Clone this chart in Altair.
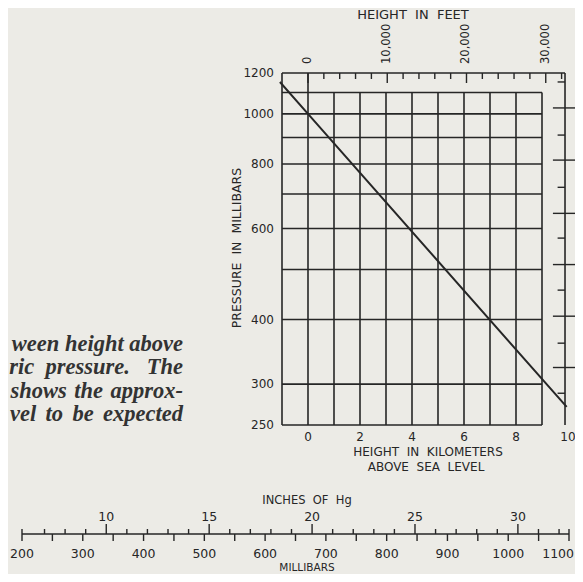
import altair as alt
import pandas as pd

BG = "#ecebe6"
INK = "#262626"
FONT = "DejaVu Sans"
SERIF = "Liberation Serif"
SP = "\u00a0"
HAIR = "\u200a"
SIXTH = "\u2006"

# ---------------- data ----------------
km_grid = [1, 2, 3, 4, 5, 6, 7, 8, 9]
km_full = [-1, 0]
km_labels = [0, 2, 4, 6, 8, 10]
mb_grid = [1100, 1000, 900, 800, 700, 600, 500, 400, 300, 250]
mb_labels = [1200, 1000, 800, 600, 400, 300, 250]
feet_minor = [2000, 4000, 6000, 8000, 12000, 14000, 16000, 18000,
              22000, 24000, 26000, 28000, 32000]
feet_major = [0, 10000, 20000, 30000]
feet_text = ["0", "10,000", "20,000", "30,000"]
right_long_mb = [1027, 814, 642, 511, 406, 323]
right_short_mb = [1153, 910, 721, 575, 456, 360, 288]
curve_km = [-1.08, 0.0, 9.95]
curve_mb = [1153, 1000, 271]
hg_minor = [7, 8, 9, 11, 12, 13, 14, 16, 17, 18, 19, 21, 22, 23, 24,
            26, 27, 28, 29, 31, 32]
hg_major = [10, 15, 20, 25, 30]
bar_mb_ticks = [250, 300, 350, 400, 450, 500, 550, 600, 650, 700, 750,
                800, 850, 900, 950, 1000, 1050]
bar_mb_ends = [200, 1100]
bar_mb_labels = [200, 300, 400, 500, 600, 700, 800, 900, 1000]
bar_mb_last = [1100]
caption = ["ween height above",
           "ric" + SP * 2 + "pressure." + SP * 3 + "The",
           "shows " + HAIR + "the " + HAIR + "approx-",
           "vel " + SIXTH + "to " + SIXTH + "be " + SIXTH + "expected"]

# ---------------- scales ----------------
KM_PER_FT = 0.0003048
MB_PER_INHG = 33.8639
km_sc = alt.Scale(domain=[-1, 10], range=[274, 560], zero=False, nice=False)
ft_sc = alt.Scale(domain=[-1 / KM_PER_FT, 10 / KM_PER_FT], range=[274, 560],
                  zero=False, nice=False)
mb_sc = alt.Scale(type="log", domain=[250, 1200], range=[417, 65], nice=False)
bar_sc = alt.Scale(domain=[200, 1100], range=[14, 561], zero=False, nice=False)
hg_sc = alt.Scale(domain=[200 / MB_PER_INHG, 1100 / MB_PER_INHG],
                  range=[14, 561], zero=False, nice=False)
cap_sc = alt.Scale(domain=[0, 3], range=[343, 413], zero=False, nice=False)
RIGHT_KM = 9.885

def X(f, sc=km_sc):
    return alt.X(f, type="quantitative", scale=sc, axis=None)

def Y(f, sc=mb_sc):
    return alt.Y(f, type="quantitative", scale=sc, axis=None)

layers = []

# horizontal grid lines
hg = pd.DataFrame({"mb": mb_grid, "a": -1, "b": 9})
layers.append(alt.Chart(hg).mark_rule(color=INK, strokeWidth=1.6).encode(
    x=X("a"), x2="b", y=Y("mb")))

# vertical grid lines
vg = pd.DataFrame({"km": km_grid, "lo": 250, "hi": 1100})
layers.append(alt.Chart(vg).mark_rule(color=INK, strokeWidth=1.6).encode(
    x=X("km"), y=Y("lo"), y2="hi"))
vf = pd.DataFrame({"km": km_full + [RIGHT_KM], "lo": 250, "hi": 1200})
layers.append(alt.Chart(vf).mark_rule(color=INK, strokeWidth=1.6).encode(
    x=X("km"), y=Y("lo"), y2="hi"))
# top frame line
tf = pd.DataFrame({"mb": [1200], "a": [-1], "b": [RIGHT_KM]})
layers.append(alt.Chart(tf).mark_rule(color=INK, strokeWidth=1.6).encode(
    x=X("a"), x2="b", y=Y("mb")))

# top feet ticks
fm = pd.DataFrame({"ft": feet_minor})
layers.append(alt.Chart(fm).mark_rule(color=INK, strokeWidth=1.4).encode(
    x=X("ft", ft_sc), y=alt.value(65), y2=alt.value(71)))
fM = pd.DataFrame({"ft": feet_major, "t": feet_text})
layers.append(alt.Chart(fM).mark_rule(color=INK, strokeWidth=1.4).encode(
    x=X("ft", ft_sc), y=alt.value(65), y2=alt.value(75)))
layers.append(alt.Chart(fM).mark_text(
    angle=270, align="left", baseline="middle", font=FONT, fontSize=11.5,
    color=INK).encode(x=X("ft", ft_sc), y=alt.value(56), text="t:N"))

# right-edge ticks
rl = pd.DataFrame({"mb": right_long_mb, "a": 9.42, "b": 10.27})
layers.append(alt.Chart(rl).mark_rule(color=INK, strokeWidth=1.4).encode(
    x=X("a"), x2="b", y=Y("mb")))
rs = pd.DataFrame({"mb": right_short_mb, "a": 9.6, "b": RIGHT_KM})
layers.append(alt.Chart(rs).mark_rule(color=INK, strokeWidth=1.4).encode(
    x=X("a"), x2="b", y=Y("mb")))

# the pressure-height line
cv = pd.DataFrame({"km": curve_km, "mb": curve_mb})
layers.append(alt.Chart(cv).mark_line(color=INK, strokeWidth=2).encode(
    x=X("km"), y=Y("mb")))

# y tick labels
yl = pd.DataFrame({"mb": mb_labels})
layers.append(alt.Chart(yl).mark_text(
    align="right", baseline="middle", font=FONT, fontSize=12, color=INK
).encode(x=alt.value(266), y=Y("mb"), text=alt.Text("mb:Q", format="d")))

# x tick labels
xl = pd.DataFrame({"km": km_labels})
layers.append(alt.Chart(xl).mark_text(
    align="center", baseline="middle", font=FONT, fontSize=12, color=INK
).encode(x=X("km"), y=alt.value(429), text=alt.Text("km:Q", format="d")))

def label(txt, x, y, size=12, angle=0, font=FONT, align="center",
          baseline="middle", color=INK):
    d = pd.DataFrame({"t": [txt]})
    return alt.Chart(d).mark_text(
        align=align, baseline=baseline, font=font, fontSize=size, angle=angle,
        color=color
    ).encode(x=alt.value(x), y=alt.value(y), text="t:N")

W2 = SP * 2
layers.append(label("HEIGHT" + W2 + "IN" + W2 + "FEET", 405, 7, size=13))
layers.append(label("PRESSURE" + W2 + "IN" + W2 + "MILLIBARS", 229, 240,
                    size=12.5, angle=270))
layers.append(label("HEIGHT" + W2 + "IN" + W2 + "KILOMETERS", 420, 444, size=12))
layers.append(label("ABOVE" + W2 + "SEA" + W2 + "LEVEL", 418, 459, size=12))

# ---------------- bottom conversion scale ----------------
LINE_Y = 526
bl = pd.DataFrame({"a": [200], "b": [1100]})
layers.append(alt.Chart(bl).mark_rule(color=INK, strokeWidth=1.6).encode(
    x=X("a", bar_sc), x2="b", y=alt.value(LINE_Y)))
be = pd.DataFrame({"mb": bar_mb_ends})
layers.append(alt.Chart(be).mark_rule(color=INK, strokeWidth=1.4).encode(
    x=X("mb", bar_sc), y=alt.value(LINE_Y - 5), y2=alt.value(LINE_Y + 7)))
bt = pd.DataFrame({"mb": bar_mb_ticks})
layers.append(alt.Chart(bt).mark_rule(color=INK, strokeWidth=1.4).encode(
    x=X("mb", bar_sc), y=alt.value(LINE_Y), y2=alt.value(LINE_Y + 7)))
hm = pd.DataFrame({"hg": hg_minor})
layers.append(alt.Chart(hm).mark_rule(color=INK, strokeWidth=1.4).encode(
    x=X("hg", hg_sc), y=alt.value(LINE_Y - 5), y2=alt.value(LINE_Y)))
hM = pd.DataFrame({"hg": hg_major})
layers.append(alt.Chart(hM).mark_rule(color=INK, strokeWidth=1.4).encode(
    x=X("hg", hg_sc), y=alt.value(LINE_Y - 10), y2=alt.value(LINE_Y)))
layers.append(alt.Chart(hM).mark_text(
    align="center", baseline="middle", font=FONT, fontSize=12.5, color=INK
).encode(x=X("hg", hg_sc), y=alt.value(LINE_Y - 17),
         text=alt.Text("hg:Q", format="d")))
blab = pd.DataFrame({"mb": bar_mb_labels})
layers.append(alt.Chart(blab).mark_text(
    align="center", baseline="middle", font=FONT, fontSize=12.5, color=INK
).encode(x=X("mb", bar_sc), y=alt.value(LINE_Y + 20),
         text=alt.Text("mb:Q", format="d")))
blast = pd.DataFrame({"mb": bar_mb_last})
layers.append(alt.Chart(blast).mark_text(
    align="right", baseline="middle", font=FONT, fontSize=12.5, color=INK,
    dx=5
).encode(x=X("mb", bar_sc), y=alt.value(LINE_Y + 20),
         text=alt.Text("mb:Q", format="d")))
layers.append(label("INCHES" + W2 + "OF" + W2 + "Hg", 299, 493, size=11.5))
layers.append(label("MILLIBARS", 299, 560, size=10.5))

# ---------------- caption fragment at left ----------------
cap = pd.DataFrame({"t": caption, "i": list(range(len(caption)))})
layers.append(alt.Chart(cap).mark_text(
    align="right", baseline="alphabetic", font=SERIF, fontSize=22.5,
    fontStyle="italic", fontWeight="bold", color="#333333"
).encode(x=alt.value(175),
         y=alt.Y("i:Q", scale=cap_sc, axis=None),
         text="t:N"))

chart = alt.layer(*layers).resolve_scale(
    x="independent", y="independent"
).properties(
    width=567, height=566, padding=0,
    autosize=alt.AutoSizeParams(type="none"), background=BG
).configure_view(stroke=None)

chart.save("out.html", embed_options={"renderer": "svg", "actions": False})
